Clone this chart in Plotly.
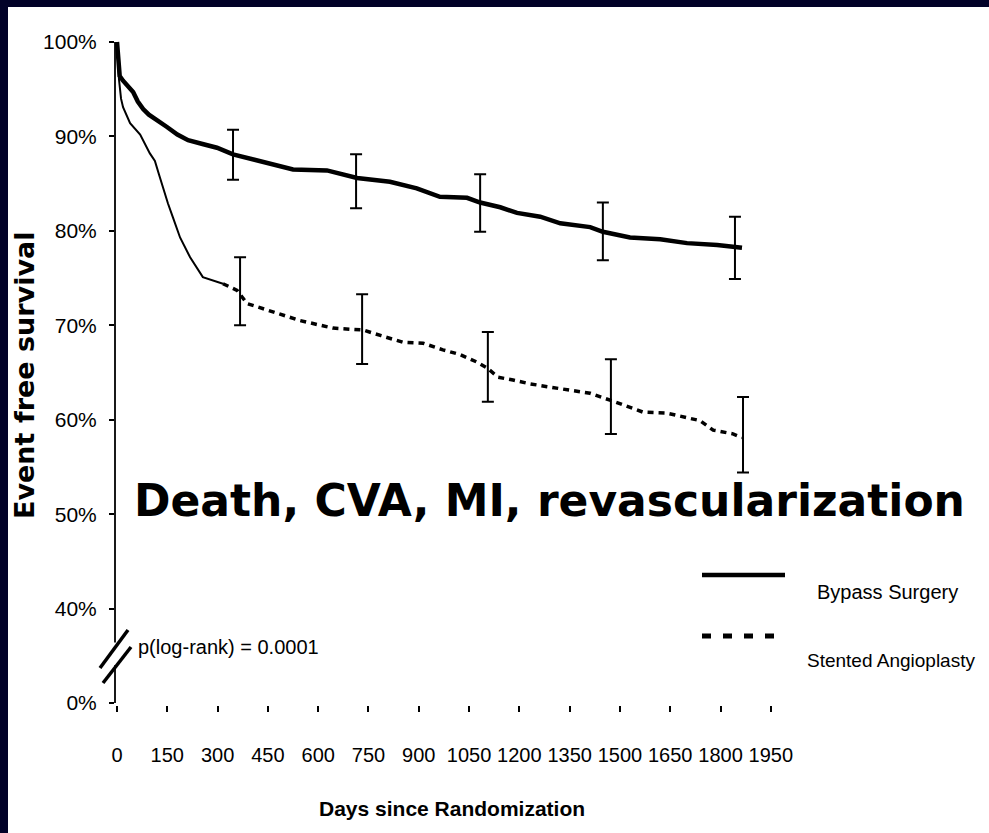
import plotly.graph_objects as go

# ---------------- data ----------------
bypass_days = [0, 2, 5, 8, 18, 30, 48, 62, 78, 95, 110, 130, 149, 180, 212, 255, 298, 346, 400, 447,
               525, 626, 716, 814, 894, 963, 1044, 1083, 1143, 1193, 1262, 1322, 1411, 1449, 1530,
               1620, 1700, 1790, 1864]
bypass_surv = [100, 99, 97.5, 96.4, 95.9, 95.4, 94.7, 93.7, 92.9, 92.3, 91.9, 91.4, 91.0, 90.2,
               89.6, 89.2, 88.8, 88.1, 87.6, 87.2, 86.5, 86.4, 85.6, 85.2, 84.5, 83.6, 83.5, 83.0,
               82.5, 81.9, 81.5, 80.8, 80.4, 79.9, 79.3, 79.1, 78.7, 78.5, 78.2]

stent_days = [0, 3, 6, 12, 18, 39, 69, 98, 113, 125, 137, 152, 167, 188, 218, 256, 316, 358, 388,
              447, 546, 644, 734, 788, 853, 913, 972, 1023, 1074, 1103, 1137, 1181, 1232, 1283,
              1360, 1411, 1476, 1569, 1640, 1739, 1778, 1837, 1864]
stent_surv = [100, 97.5, 96.0, 94.0, 93.1, 91.4, 90.2, 88.2, 87.4, 86.0, 84.5, 82.9, 81.4, 79.3,
              77.2, 75.1, 74.4, 73.7, 72.3, 71.6, 70.5, 69.7, 69.5, 68.9, 68.2, 68.1, 67.4, 66.9,
              66.1, 65.5, 64.5, 64.2, 63.8, 63.5, 63.1, 62.8, 62.0, 60.8, 60.7, 59.9, 58.9, 58.5,
              58.1]
stent_solid_until = 316  # day where the printed line turns dashed

bypass_ci_days = [346, 713, 1083, 1449, 1843]
bypass_ci_mid = [88.1, 85.6, 83.0, 79.9, 78.3]
bypass_ci_hi = [90.7, 88.1, 86.0, 83.0, 81.5]
bypass_ci_lo = [85.4, 82.4, 79.9, 76.9, 74.9]

stent_ci_days = [367, 731, 1106, 1473, 1867]
stent_ci_mid = [73.4, 69.5, 65.5, 62.4, 58.3]
stent_ci_hi = [77.2, 73.3, 69.3, 66.4, 62.4]
stent_ci_lo = [70.0, 65.9, 61.9, 58.5, 54.4]

x_ticks = list(range(0, 1951, 150))
x_ticktext = [str(v) for v in x_ticks]
y_ticks = [30, 40, 50, 60, 70, 80, 90, 100]
y_ticktext = ["0%", "40%", "50%", "60%", "70%", "80%", "90%", "100%"]

# ---------------- layout helpers ----------------
W_FIG, H_FIG = 989, 833
L, R, T, B = 115, 20, 30, 128
PW, PH = W_FIG - L - R, H_FIG - T - B


def px2x(px):
    return (px - L) / PW


def py2y(py):
    return 1 - (py - T) / PH


ARIAL = "Liberation Sans, Arial, sans-serif"
NAVY = "#020228"

fig = go.Figure()

fig.add_trace(go.Scatter(x=bypass_days, y=bypass_surv, mode="lines", name="Bypass Surgery",
                         line=dict(color="black", width=4.5), showlegend=False))

solid_idx = [i for i, d in enumerate(stent_days) if d <= stent_solid_until]
dash_idx = [i for i, d in enumerate(stent_days) if d >= stent_solid_until]
fig.add_trace(go.Scatter(x=[stent_days[i] for i in solid_idx], y=[stent_surv[i] for i in solid_idx],
                         mode="lines", name="Stented Angioplasty",
                         line=dict(color="black", width=2), showlegend=False))
fig.add_trace(go.Scatter(x=[stent_days[i] for i in dash_idx], y=[stent_surv[i] for i in dash_idx],
                         mode="lines", name="Stented Angioplasty",
                         line=dict(color="black", width=3.5, dash="6px,5px"), showlegend=False))

for d, m, hi, lo in [(bypass_ci_days, bypass_ci_mid, bypass_ci_hi, bypass_ci_lo),
                     (stent_ci_days, stent_ci_mid, stent_ci_hi, stent_ci_lo)]:
    fig.add_trace(go.Scatter(
        x=d, y=m, mode="markers", marker=dict(size=1, color="rgba(0,0,0,0)"), showlegend=False,
        error_y=dict(type="data", symmetric=False,
                     array=[h - c for h, c in zip(hi, m)],
                     arrayminus=[c - l for c, l in zip(m, lo)],
                     color="black", thickness=2, width=6)))

shapes = [
    # dark frame strips (top and left)
    dict(type="rect", xref="paper", yref="paper", x0=px2x(0), x1=px2x(W_FIG), y0=py2y(7), y1=py2y(0),
         fillcolor=NAVY, line=dict(width=0), layer="above"),
    dict(type="rect", xref="paper", yref="paper", x0=px2x(0), x1=px2x(8), y0=py2y(H_FIG), y1=py2y(0),
         fillcolor=NAVY, line=dict(width=0), layer="above"),
    # broken y axis line
    dict(type="line", xref="paper", yref="y", x0=0, x1=0, y0=y_ticks[-1], y1=36.4,
         line=dict(color="black", width=1.8)),
    dict(type="line", xref="paper", yref="y", x0=0, x1=0, y0=34.0, y1=y_ticks[0],
         line=dict(color="black", width=1.8)),
    # axis break marks
    dict(type="line", xref="paper", yref="paper", x0=px2x(100), y0=py2y(668), x1=px2x(128), y1=py2y(630),
         line=dict(color="black", width=3.5)),
    dict(type="line", xref="paper", yref="paper", x0=px2x(103), y0=py2y(683), x1=px2x(131), y1=py2y(647),
         line=dict(color="black", width=3.5)),
    # legend samples
    dict(type="line", xref="paper", yref="paper", x0=px2x(702), x1=px2x(785), y0=py2y(575), y1=py2y(575),
         line=dict(color="black", width=4.5)),
    dict(type="line", xref="paper", yref="paper", x0=px2x(702), x1=px2x(780), y0=py2y(636), y1=py2y(636),
         line=dict(color="black", width=5, dash="9px,12px")),
]

annotations = [
    dict(text="<b>Event free survival</b>", xref="paper", yref="paper", x=px2x(24), y=py2y(375),
         textangle=-90, showarrow=False, xanchor="center", yanchor="middle",
         font=dict(family="DejaVu Sans", size=27, color="black")),
    dict(text="<b>Days since Randomization</b>", xref="paper", yref="paper", x=px2x(452), y=py2y(808),
         showarrow=False, xanchor="center", yanchor="middle",
         font=dict(family=ARIAL, size=21, color="black")),
    dict(text="<b>Death, CVA, MI, revascularization</b>", xref="paper", yref="paper",
         x=px2x(549), y=py2y(500), showarrow=False, xanchor="center", yanchor="middle",
         font=dict(family="DejaVu Sans", size=44, color="black")),
    dict(text="p(log-rank) = 0.0001", xref="paper", yref="paper", x=px2x(136), y=py2y(647),
         showarrow=False, xanchor="left", yanchor="middle",
         font=dict(family=ARIAL, size=20, color="black")),
    dict(text="Bypass Surgery", xref="paper", yref="paper", x=px2x(815), y=py2y(592),
         showarrow=False, xanchor="left", yanchor="middle",
         font=dict(family=ARIAL, size=20, color="black")),
    dict(text="Stented Angioplasty", xref="paper", yref="paper", x=px2x(805), y=py2y(660),
         showarrow=False, xanchor="left", yanchor="middle",
         font=dict(family=ARIAL, size=19, color="black")),
]

fig.update_layout(
    width=W_FIG, height=H_FIG,
    margin=dict(l=L, r=R, t=T, b=B, autoexpand=False),
    paper_bgcolor="white", plot_bgcolor="white",
    shapes=shapes, annotations=annotations,
    xaxis=dict(range=[-6, 2541], tickvals=x_ticks, ticktext=x_ticktext, ticks="outside",
               ticklen=6, tickwidth=1.5, tickcolor="black", showline=False, showgrid=False,
               zeroline=False, ticklabelstandoff=26, tickangle=0,
               tickfont=dict(family=ARIAL, size=20, color="black")),
    yaxis=dict(range=[29.79, 101.27], tickvals=y_ticks, ticktext=y_ticktext, ticks="outside",
               ticklen=5, tickwidth=1.5, tickcolor="black", showline=False, showgrid=False,
               zeroline=False, ticklabelstandoff=8,
               tickfont=dict(family=ARIAL, size=21, color="black")),
)

fig.write_html("out.html")
